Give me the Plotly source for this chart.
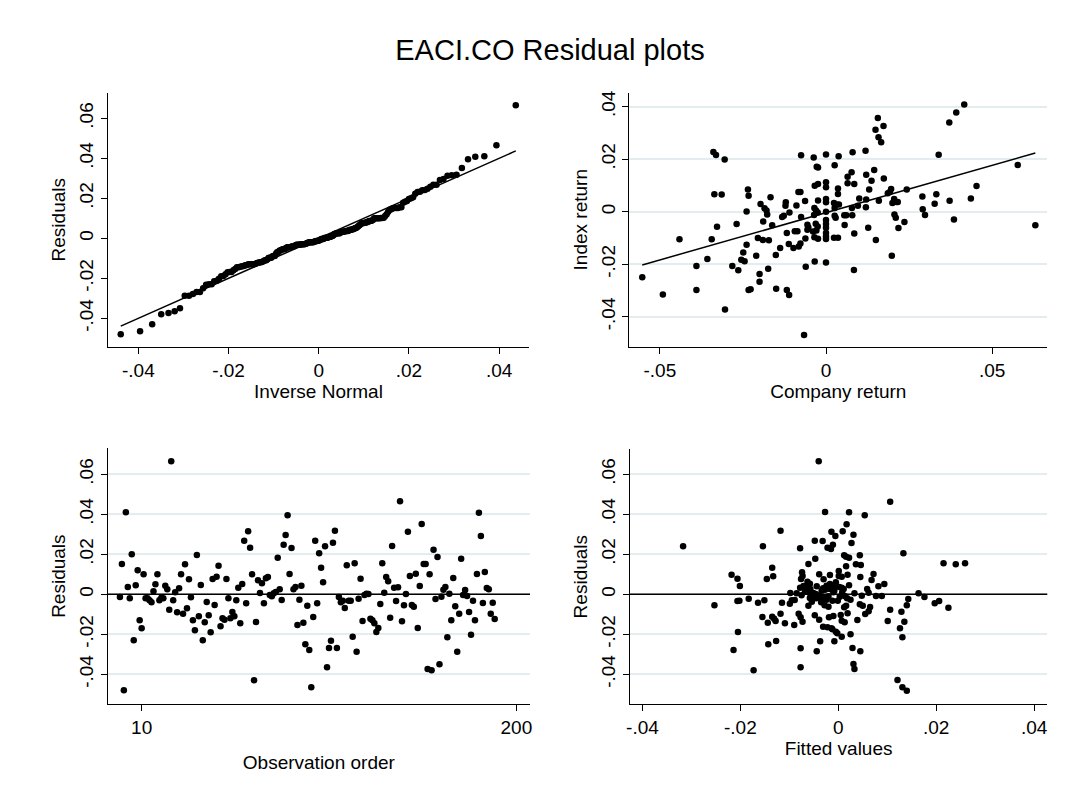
import numpy as np
from statistics import NormalDist
import plotly.graph_objects as go

# ---------------- data ----------------
residuals = [
    -0.0013, 0.0152, -0.048, 0.041, 0.0037, -0.002, 0.020, -0.023, 0.0045, 0.012,
    -0.013, -0.017, 0.010, -0.002, -0.002, -0.003, -0.004, 0.0015, 0.005, 0.010,
    -0.003, -0.0017, -0.002, 0.0043, 0.0025, -0.0077, 0.0665, -0.003, 0.001, -0.009,
    0.003, 0.010, -0.0097, 0.015, -0.007, 0.0075, -0.0015, -0.013, -0.018, 0.0197,
    -0.011, 0.0047, -0.023, -0.014, -0.0038, -0.0105, -0.019, 0.0077, -0.0053, 0.0088,
    0.0143, -0.016, -0.012, -0.0127, 0.0077, -0.002, -0.012, -0.0088, -0.011, -0.003,
    0.0033, -0.0145, 0.0052, 0.0268, -0.0045, 0.0315, 0.0233, 0.010, -0.043, -0.0138,
    0.007, 0.0007, 0.0055, -0.0045, 0.008, 0.0087, -0.0003, -0.001, 0.0005, 0.0012,
    0.0183, 0.0025, -0.0028, 0.0248, 0.0297, 0.0395, 0.0102, 0.0232, 0.0025, 0.0037,
    -0.0153, -0.0027, 0.0043, -0.0142, -0.025, -0.0057, -0.0278, -0.0465, -0.0113, 0.0268,
    -0.0045, 0.0205, 0.0133, 0.006, 0.024, -0.0365, -0.0268, -0.0232, 0.0258, 0.0318,
    -0.0268, -0.0013, -0.004, -0.0032, -0.0068, 0.0145, -0.0032, -0.0032, -0.0212, 0.0155,
    -0.0287, -0.0022, 0.0078, -0.0133, -0.0003, 0.0003, 0.0002, -0.0122, -0.013, -0.0145,
    -0.0188, -0.0168, -0.0048, 0.0155, 0.0008, 0.0087, 0.0065, -0.0117, 0.0242, 0.0033,
    -0.0033, 0.0035, 0.0465, -0.0135, -0.0055, 0.0002, 0.0313, 0.0092, -0.0053, -0.0062,
    0.0103, -0.0168, 0.0042, 0.0352, 0.0152, 0.0152, -0.0373, 0.010, -0.038, 0.0223,
    -0.0023, 0.0187, -0.035, -0.0012, 0.0023, 0.0037, -0.0215, 0.0003, -0.013, 0.0082,
    -0.006, -0.0287, -0.0097, 0.0178, -0.0003, 0.0022, -0.0008, -0.0088, -0.0202, -0.0032,
    -0.013, 0.0102, 0.0408, 0.0292, -0.0043, 0.0112, 0.0032, 0.0025, -0.0097, -0.0042,
    -0.0123,
]
obs_order = list(range(-1, len(residuals) - 1))

company_return = [
    -0.0553, -0.0491, -0.0441, -0.039, -0.039, -0.0357, -0.0344, -0.0339, -0.0331, -0.0336,
    -0.0314, -0.0328, -0.0305, -0.0304, -0.0282, -0.0269, -0.0264, -0.0255, -0.0249, -0.0245,
    -0.0239, -0.0239, -0.0235, -0.0233, -0.0233, -0.0227, -0.021, -0.0205, -0.020, -0.020,
    -0.0197, -0.019, -0.0189, -0.0185, -0.0179, -0.0177, -0.0174, -0.0172, -0.0167, -0.0162,
    -0.0151, -0.015, -0.0138, -0.0132, -0.0127, -0.0122, -0.0121, -0.0118, -0.0118, -0.0111,
    -0.0112, -0.011, -0.0098, -0.0094, -0.0089, -0.0086, -0.0083, -0.0077, -0.0082, -0.0077,
    -0.0075, -0.0075, -0.0066, -0.0063, -0.0062, -0.0061, -0.0056, -0.0056, -0.0053, -0.0037,
    -0.0028, -0.0024, -0.0034, -0.0024, -0.0035, -0.003, -0.0025, -0.0024, -0.0036, -0.0031,
    -0.0025, -0.0029, -0.0035, -0.0024, -0.0034, -0.0039, 0.0, 0.0, 0.0, 0.0,
    0.0, 0.0, 0.0, 0.0, 0.0, 0.0, 0.0, 0.0, 0.0,
    0.0026, 0.0038, 0.0036, 0.0036, 0.0024, 0.0032, 0.0039, 0.0026, 0.0026, 0.0029,
    0.0024, 0.0036, 0.0056, 0.0055, 0.0061, 0.0079, 0.0065, 0.0065, 0.0077, 0.008,
    0.0085, 0.0078, 0.0085, 0.0084, 0.0096, 0.010, 0.0119, 0.0121, 0.0137, 0.013,
    0.0121, 0.012, 0.0127, 0.0145, 0.015, 0.0149, 0.0156, 0.0158, 0.0166, 0.0173,
    0.0159, 0.0174, 0.0186, 0.0196, 0.0192, 0.020, 0.0205, 0.0212, 0.0216, 0.0206,
    0.021, 0.0198, 0.0218, 0.0236, 0.0243, 0.029, 0.0291, 0.0298, 0.0327, 0.0332,
    0.0339, 0.0371, 0.0392, 0.0416, 0.0372, 0.0385, 0.0436, 0.0453, 0.0577, 0.063,
]
index_return = [
    -0.025, -0.0315, -0.0105, -0.0207, -0.0298, -0.018, -0.0105, 0.0227, 0.0216, 0.0066,
    0.0065, -0.0057, 0.0199, -0.0372, -0.0207, -0.0047, -0.0223, -0.0183, -0.0155, -0.0189,
    -0.0126, 0.0001, 0.0084, 0.0061, -0.0298, -0.0295, -0.0168, -0.010, -0.0237, -0.0267,
    0.0029, -0.0108, -0.0037, 0.0013, 0.0005, -0.0011, -0.0217, -0.0109, 0.0055, -0.0052,
    -0.0165, -0.0293, -0.0138, -0.002, -0.0015, 0.0023, 0.0036, -0.0081, -0.0298, -0.0317,
    -0.0123, -0.0003, -0.0138, -0.0074, 0.0024, -0.0074, 0.0075, 0.0075, -0.0133, -0.0121,
    0.0215, -0.002, -0.0469, 0.0041, -0.0102, -0.021, -0.005, -0.0069, -0.006, 0.0206,
    0.0171, 0.0168, 0.0099, 0.0105, 0.0014, 0.0005, -0.0003, 0.0043, -0.0013, -0.0046,
    -0.0056, -0.0072, -0.0097, -0.0103, -0.019, -0.0075, 0.0218, 0.0112, 0.0093, 0.0048,
    0.0036, 0.0, -0.0032, -0.0047, -0.0061, -0.0081, -0.0094, -0.0104, -0.0193,
    0.0177, 0.0211, 0.0088, 0.0067, 0.0033, 0.0027, 0.0027, 0.0014, -0.0015, -0.0023,
    -0.0099, -0.0099, -0.0051, -0.0014, -0.0014, -0.0014, 0.0133, 0.0108, 0.015, 0.0226,
    0.0105, 0.0014, -0.0083, -0.0222, 0.0023, 0.005, 0.0232, 0.0141, 0.0118, 0.0084,
    0.0046, 0.0017, -0.0061, 0.0159, -0.0108, 0.0312, 0.0357, 0.0283, 0.0264, 0.0326,
    0.0042, 0.0126, 0.007, 0.0086, 0.0075, 0.0033, 0.0048, 0.0037, 0.0037, -0.0011,
    -0.0023, -0.0168, -0.0062, -0.0039, 0.0084, 0.0058, 0.0009, -0.0013, 0.003, 0.0066,
    0.0217, 0.034, 0.0378, 0.0408, 0.0042, -0.003, 0.005, 0.0098, 0.0178, -0.0052,
]

fitted_values = [
    -0.0317, -0.0253, -0.0218, -0.0206, -0.0201, -0.0206, -0.0202, -0.0205, -0.0214, -0.0183,
    -0.0173, -0.0164, -0.0151, -0.0154, -0.0146, -0.0133, -0.0135, -0.0155, -0.0144, -0.0135,
    -0.0131, -0.0128, -0.0143, -0.0127, -0.0118, -0.0115, -0.0118, -0.0109, -0.0098, -0.0099,
    -0.009, -0.0089, -0.0078, -0.0081, -0.0077, -0.0073, -0.0077, -0.0077, -0.0074, -0.0073,
    -0.0076, -0.0078, -0.0071, -0.0068, -0.0061, -0.0063, -0.0058, -0.0057, -0.0056, -0.0054,
    -0.0061, -0.0047, -0.0048, -0.004, -0.0039, -0.0039, -0.0037, -0.0044, -0.0032, -0.0031,
    -0.0027, -0.0022, -0.0015, -0.0014, -0.0011, -0.0017, -0.0017, -0.002, -0.0019, -0.0014,
    -0.0008, -0.001, -0.0046, -0.0041, -0.0037, -0.0031, -0.0027, -0.0024, -0.0051, -0.0044,
    -0.0034, -0.0058, -0.0031, -0.0024, -0.0017, -0.001,
    0.0106, 0.0054, 0.0022, 0.0017, 0.0009, -0.0006, 0.0031, 0.0027, 0.0012, 0.0016,
    0.0022, 0.0044, 0.0133, 0.0036, 0.0046, 0.0016, 0.0215, 0.024, 0.0259, 0.0001,
    0.0001, 0.0019, 0.0007, 0.0045, 0.0072, 0.0068, 0.0082, 0.0094, 0.0002, 0.0007,
    0.0011, -0.0005, -0.0008, 0.0059, 0.0033, 0.0048, 0.0062, 0.0077, 0.0089, 0.0018,
    0.0025, 0.0014, -0.0001, -0.0012, 0.0143, 0.0164, 0.0176, 0.0197, 0.0206, 0.0225,
    0.014, 0.0129, 0.0106, 0.0101, 0.0135, 0.0126, 0.0131, 0.0044, 0.005, 0.0065,
    0.0062, 0.0055, 0.0039, 0.0016, 0.0019, 0.0005, 0.0007, 0.0013, -0.0005, -0.0002,
    0.0007, 0.0025, 0.0029, 0.0045, 0.0031, 0.0033, 0.0121, 0.0131, 0.014,
    -0.0065, -0.006, -0.0052, -0.0045, -0.0035, -0.0028, -0.002, -0.0012, -0.0005, 0.0003,
    0.0008, -0.0075, -0.0085, -0.0095, -0.0048, -0.0022, -0.0012, 0.0012, 0.0022, -0.003,
]
fitted_residuals = [
    0.024, -0.0055, 0.0098, 0.0078, 0.0042, -0.0033, -0.0032, -0.0188, -0.0278, -0.0022,
    -0.038, -0.0042, -0.003, 0.024, 0.0077, 0.009, 0.0133, -0.0113, -0.0142, -0.0112,
    -0.0122, -0.0133, -0.025, -0.0233, 0.0318, -0.0042, -0.0097, -0.0145, 0.0007, -0.0047,
    -0.0153, -0.0028, 0.023, -0.0097, -0.0115, -0.0137, -0.027, -0.0365, 0.011, 0.0092,
    0.0077, 0.0033, 0.0042, 0.0013, 0.0152, 0.0063, 0.0053, 0.0027, -0.0007, -0.0037,
    -0.0057, 0.0178, 0.0268, 0.0665, 0.010, -0.0127, -0.0235, -0.0285, 0.0267, -0.0162,
    0.0412, 0.0233, 0.0227, 0.0313, 0.0248, 0.0097, 0.0052, -0.0062, -0.0115, -0.017,
    -0.0235, -0.0108, 0.0002, -0.0007, -0.0013, 0.003, 0.0023, 0.0043, 0.0007, 0.004,
    0.0018, -0.0018, -0.0015, -0.0027, 0.0027, 0.001,
    0.0463, 0.0395, 0.041, 0.035, 0.0315, 0.0292, 0.0298, 0.0257, 0.0195, 0.0188,
    0.0183, 0.0195, 0.0205, 0.015, 0.0147, 0.014, 0.0155, 0.015, 0.0155, 0.0117,
    0.0092, 0.0098, 0.0088, 0.0087, 0.0102, 0.0072, 0.004, 0.0052, 0.0037, 0.0033,
    0.0027, 0.004, 0.0018, 0.0027, 0.0005, -0.0007, 0.0008, -0.0008, -0.0008, -0.002,
    -0.0027, -0.001, -0.0032, -0.0032, -0.0023, 0.0005, -0.0013, -0.0045, -0.0033, -0.0067,
    -0.0055, -0.0087, -0.0077, -0.0133, -0.0137, -0.017, -0.0215, -0.005, -0.0057, -0.0063,
    -0.0085, -0.0098, -0.0128, -0.0057, -0.0095, -0.0103, -0.0132, -0.014, -0.0187, -0.0195,
    -0.0212, -0.020, -0.0268, -0.0285, -0.0348, -0.0373, -0.0428, -0.0465, -0.0482,
    0.004, 0.001, -0.001, -0.002, -0.004, -0.0055, -0.001, 0.0035, 0.006, -0.0012,
    0.0009, -0.0005, 0.0005, -0.003, -0.0105, -0.0165, -0.0175, -0.0065, 0.0045, 0.0075,
]

title_text = "EACI.CO Residual plots"

# ---------------- derived (statistical transforms) ----------------
res = np.array(residuals)
n = len(res)
mu, sd = res.mean(), res.std(ddof=1)
qq_y = np.sort(res)
qq_x = np.array([mu + sd * NormalDist().inv_cdf(i / (n + 1)) for i in range(1, n + 1)])

slope, intercept = np.polyfit(company_return, index_return, 1)
line_x = np.array([min(company_return), max(company_return)])
line_y = intercept + slope * line_x

# ---------------- figure ----------------
# The page body has an 8px margin, so the figure is offset by 8px on the page.
OFF = 8
W, H = 1079 - 2 * OFF, 792 - 2 * OFF
FONT = "Liberation Sans, Arial, Helvetica, sans-serif"

def dom_x(a, b):
    return [(a - OFF) / W, (b - OFF) / W]

def dom_y(top, bottom):
    return [1 - (bottom - OFF) / H, 1 - (top - OFF) / H]

fig = go.Figure()
mk = dict(color="black", size=6.5)
ln = dict(color="black", width=1.5)

fig.add_trace(go.Scatter(x=qq_x, y=qq_y, mode="markers", marker=mk, xaxis="x", yaxis="y"))
fig.add_trace(go.Scatter(x=qq_x[[0, -1]], y=qq_x[[0, -1]], mode="lines", line=ln, xaxis="x", yaxis="y"))

fig.add_trace(go.Scatter(x=company_return, y=index_return, mode="markers", marker=mk, xaxis="x2", yaxis="y2"))
fig.add_trace(go.Scatter(x=line_x, y=line_y, mode="lines", line=ln, xaxis="x2", yaxis="y2"))

fig.add_trace(go.Scatter(x=obs_order, y=residuals, mode="markers", marker=mk, xaxis="x3", yaxis="y3"))
fig.add_trace(go.Scatter(x=fitted_values, y=fitted_residuals, mode="markers", marker=mk, xaxis="x4", yaxis="y4"))

ax_common = dict(showline=True, linecolor="black", linewidth=1.3, ticks="outside", ticklen=6,
                 tickwidth=1.2, tickcolor="black", zeroline=False, mirror=False, automargin=False,
                 tickfont=dict(family=FONT, size=19, color="black"),
                 title_font=dict(family=FONT, size=19, color="black"))

res_ticks = [-0.04, -0.02, 0, 0.02, 0.04, 0.06]
res_text = ["-.04", "-.02", "0", ".02", ".04", ".06"]
grid = dict(showgrid=True, gridcolor="#e3ecee", gridwidth=1.5)

fig.update_layout(
    width=W, height=H, margin=dict(l=0, r=0, t=0, b=0, autoexpand=False),
    paper_bgcolor="white", plot_bgcolor="white", showlegend=False,
    title=dict(text=title_text, x=(550 - OFF) / W, xanchor="center", y=1 - (50 - OFF) / H,
               yanchor="middle", font=dict(family=FONT, size=29, color="black")),
    xaxis=dict(domain=dom_x(107.7, 529.3), range=[-0.0468, 0.0467], anchor="y",
               tickvals=[-0.04, -0.02, 0, 0.02, 0.04], ticktext=["-.04", "-.02", "0", ".02", ".04"],
               title=dict(text="Inverse Normal", standoff=2), showgrid=False, **ax_common),
    yaxis=dict(domain=dom_y(92.7, 346.7), range=[-0.0542, 0.0728], anchor="x",
               tickvals=res_ticks, ticktext=res_text, tickangle=-90,
               title=dict(text="Residuals", standoff=5), showgrid=False, **ax_common),
    xaxis2=dict(domain=dom_x(629.3, 1047.3), range=[-0.0592, 0.0666], anchor="y2",
                tickvals=[-0.05, 0, 0.05], ticktext=["-.05", "0", ".05"],
                title=dict(text="Company return", standoff=2), showgrid=False, **ax_common),
    yaxis2=dict(domain=dom_y(92.7, 346.7), range=[-0.0514, 0.0453], anchor="x2",
                tickvals=[-0.04, -0.02, 0, 0.02, 0.04], ticktext=["-.04", "-.02", "0", ".02", ".04"],
                tickangle=-90, title=dict(text="Index return", standoff=4), **grid, **ax_common),
    xaxis3=dict(domain=dom_x(107.7, 530), range=[-7.2, 206.9], anchor="y3",
                tickvals=[10, 200], ticktext=["10", "200"],
                title=dict(text="Observation order", standoff=18), showgrid=False, **ax_common),
    yaxis3=dict(domain=dom_y(448.3, 704), range=[-0.05485, 0.073], anchor="x3",
                tickvals=res_ticks, ticktext=res_text, tickangle=-90,
                title=dict(text="Residuals", standoff=5), **grid, **ax_common),
    xaxis4=dict(domain=dom_x(630, 1047.3), range=[-0.04255, 0.0427], anchor="y4",
                tickvals=[-0.04, -0.02, 0, 0.02, 0.04], ticktext=["-.04", "-.02", "0", ".02", ".04"],
                title=dict(text="Fitted values", standoff=2), showgrid=False, **ax_common),
    yaxis4=dict(domain=dom_y(449.3, 704), range=[-0.05485, 0.0725], anchor="x4",
                tickvals=res_ticks, ticktext=res_text, tickangle=-90,
                title=dict(text="Residuals", standoff=5), **grid, **ax_common),
)

# zero reference lines (yline(0))
for xr, yr in (("x3", "y3"), ("x4", "y4")):
    fig.add_shape(type="line", xref=f"{xr} domain", yref=yr, x0=0, x1=1, y0=0, y1=0,
                  line=dict(color="black", width=1.5))

fig.write_html("out.html")
